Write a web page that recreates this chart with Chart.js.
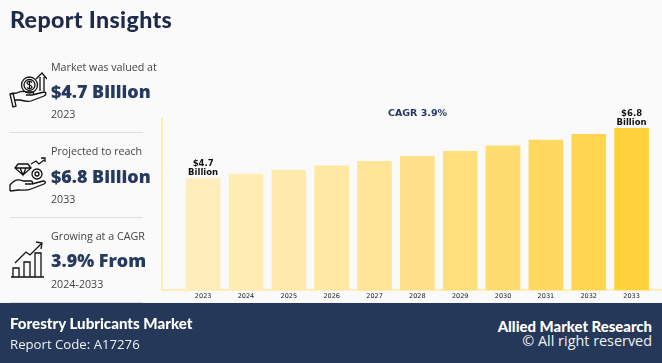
<!DOCTYPE html>
<html><head><meta charset="utf-8">
<script src="https://cdn.jsdelivr.net/npm/chart.js@4"></script>
<style>
html,body{margin:0;padding:0;background:#fafafa;width:662px;height:363px;overflow:hidden;font-family:"Open Sans",sans-serif}
.t{position:absolute;white-space:nowrap;line-height:1}
.h{left:10px;top:5px;font:900 23.2px Lato,sans-serif;color:#1f2a4a;letter-spacing:.35px}
.s{left:51px;font:400 10.7px "Open Sans",sans-serif;color:#444}
.b{left:51px;font:800 17.9px "Open Sans",sans-serif;color:#263a5e}
.hr{position:absolute;left:10px;width:133px;height:1px;background:#dddddd}
.foot{position:absolute;left:0;top:303px;width:662px;height:60px;background:#25385a}
svg{position:absolute;fill:none;stroke:#111;stroke-width:1.3}
#w{position:absolute;left:0;top:0;width:662px;height:303px}
</style></head><body>
<div id="w"><canvas id="c" width="662" height="303"></canvas></div>
<div class="t h">Report Insights</div>
<div class="t s" style="top:60px">Market was valued at</div>
<div class="t b" style="top:79px">$4.7 Billion</div>
<div class="t s" style="top:107px">2023</div>
<div class="hr" style="top:132px"></div>
<div class="t s" style="top:144px">Projected to reach</div>
<div class="t b" style="top:164px">$6.8 Billion</div>
<div class="t s" style="top:192px">2033</div>
<div class="hr" style="top:217px"></div>
<div class="t s" style="top:229px">Growing at a CAGR</div>
<div class="t b" style="top:248px">3.9% From</div>
<div class="t s" style="top:277px">2024-2033</div>
<div class="hr" style="top:302px"></div>
<svg style="left:9px;top:72px" width="38" height="36" viewBox="0 0 38 36"><circle cx="20.5" cy="13" r="8"/><circle cx="20.5" cy="13" r="5.5"/><path d="M20.5 9v8M23 10.5c-1-1.5-5-1.5-5 .5s5 2 5 4-4 2-5 .5"/><path d="M31 5v14M35 5v14M27 7l6-6 5 6"/><path d="M2 22l6-1c3-2 6-2 9-1h6c2 0 2 3 0 3h-6M23 23l12-3c3 0 2 3 0 4l-13 5c-3 1-7 0-11-1H6M1 22l3 13 3-1-3-13z"/></svg>
<svg style="left:9px;top:157px" width="38" height="36" viewBox="0 0 38 36"><path d="M9 7h10l3 4-8 7-8-7zM6 11h16M11 11l3 7 3-7"/><circle cx="28" cy="17" r="5"/><circle cx="28" cy="17" r="2"/><path d="M22 7l5-3 3 3 5-4M32 1h4v4M1 34V28c4-5 9-6 13-4h8c2 0 2 3 0 3h-6M23 27l11-3c3 0 3 2 1 3l-13 5c-4 2-9 1-12 1l-9 1"/></svg>
<svg style="left:10px;top:241px" width="36" height="38" viewBox="0 0 36 38"><path d="M1 36h33M3 36V27h6v9zM14 36V21h6v15zM25 36V12h6v24zM5 22l11-11 4 3 12-12M26 1l6 1-1 6"/></svg>
<div class="foot"></div>
<div class="t" style="left:10px;top:314px;font:900 15.1px Lato,sans-serif;color:#fff">Forestry Lubricants Market</div>
<div class="t" style="left:10px;top:335px;font:400 13.2px 'Open Sans',sans-serif;color:#f2f2f2">Report Code: A17276</div>
<div class="t" style="right:10px;top:317px;font:900 14.9px Lato,sans-serif;color:#fff">Allied Market Research</div>
<div class="t" style="right:10px;top:331px;font:400 14.4px 'Open Sans',sans-serif;color:#f2f2f2">© All right reserved</div>
<script>
const years=[2023,2024,2025,2026,2027,2028,2029,2030,2031,2032,2033];
const values=[4.7,4.88,5.05,5.22,5.41,5.62,5.83,6.06,6.3,6.55,6.8];
const colors=['#FFEEBB','#FFEDB4','#FFEAAB','#FFE8A3','#FFE595','#FFE08A','#FFDF7C','#FFDC70','#FFD85F','#FFD550','#FFD23C'];
const edgeLabels={2023:['$4.7','Billion'],2033:['$6.8','Billion']};
const cagrTitle='CAGR 3.9%';
const axisColor='#FFEDB8';
const extras={id:'extras',afterDatasetsDraw(c){
  const g=c.ctx,x=c.scales.x,y=c.scales.y;
  g.save();g.textAlign='center';g.fillStyle='#111';g.font='bold 8.5px "DejaVu Sans"';
  years.forEach((yr,i)=>{const l=edgeLabels[yr];if(!l)return;
    const px=x.getPixelForValue(yr),py=y.getPixelForValue(values[i]);
    g.fillText(l[0],px,py-12.5);g.fillText(l[1],px,py-3.5);});
  g.fillStyle='#263a5e';g.font='bold 9.5px "DejaVu Sans"';
  g.fillText(cagrTitle,417.5,116);
  g.restore();
}};
new Chart(document.getElementById('c'),{
 type:'bar',
 data:{datasets:[{data:years.map((yr,i)=>({x:yr,y:values[i]})),backgroundColor:colors,borderColor:colors,borderWidth:0,barThickness:34}]},
 options:{responsive:false,animation:false,
  layout:{padding:{left:162,right:0,top:119,bottom:1}},
  plugins:{legend:{display:false},tooltip:{enabled:false}},
  scales:{
   x:{type:'linear',min:2022.04,max:2033.71,offset:false,
      afterBuildTicks(a){a.ticks=years.map(v=>({value:v}));},
      grid:{display:false,drawTicks:false},border:{color:axisColor,width:2},
      ticks:{autoSkip:false,maxRotation:0,padding:2,color:'#222',font:{family:'DejaVu Sans',size:6.5},callback:v=>String(v)}},
   y:{min:0,max:7.19,grid:{display:false,drawTicks:false},border:{color:axisColor,width:2},ticks:{display:false}}
  }},
 plugins:[extras]});
</script>
</body></html>
